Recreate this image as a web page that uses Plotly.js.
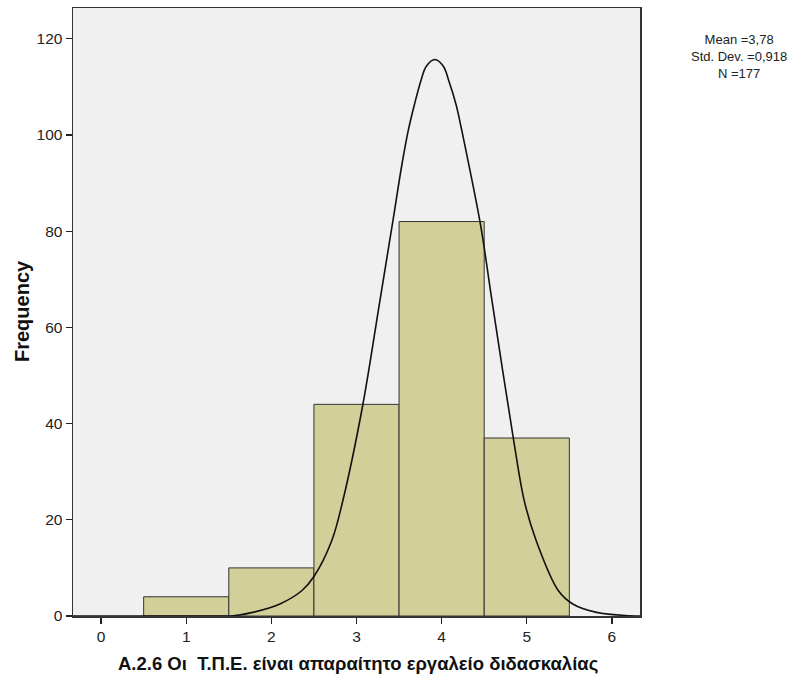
<!DOCTYPE html>
<html>
<head>
<meta charset="utf-8">
<script src="https://cdn.plot.ly/plotly-3.0.1.min.js"></script>
<style>html,body{margin:0;padding:0;background:#fff;}#chart{width:802px;height:682px;}</style>
</head>
<body>
<div id="chart"></div>
<script>
// Histogram data (bin centers and frequencies)
const categories = [1, 2, 3, 4, 5];
const frequencies = [4, 10, 44, 82, 37];
const xTicks = [0, 1, 2, 3, 4, 5, 6];
const yTicks = [0, 20, 40, 60, 80, 100, 120];

// Normal curve
const curveX = [-0.33, 1.2, 1.55, 1.78, 2.10, 2.36, 2.50, 2.71, 2.84, 3.07, 3.27, 3.43, 3.53, 3.61, 3.68, 3.76, 3.82, 3.92, 4.02, 4.08, 4.17, 4.23, 4.30, 4.46, 4.59, 4.84, 4.97, 5.11, 5.37, 5.54, 5.82, 6.21, 6.33];
const curveY = [0, 0, 0.06, 0.75, 2.5, 5.3, 8.2, 15.7, 24.0, 43.5, 65.0, 82.4, 93.5, 101.1, 106.3, 111.5, 114.3, 115.7, 114.3, 111.5, 106.3, 101.5, 95.5, 81.0, 65.7, 37.2, 24.0, 15.7, 5.3, 2.5, 0.75, 0.06, 0];

const statsLines = ["Mean =3,78", "Std. Dev. =0,918", "N =177"];
const xTitle = "Α.2.6 Οι  Τ.Π.Ε. είναι απαραίτητο εργαλείο διδασκαλίας";
const yTitle = "Frequency";

const FONT = "Liberation Sans, Arial, sans-serif";

const traces = [
  {
    type: "bar",
    x: categories,
    y: frequencies,
    width: 1,
    marker: {color: "#d3cf98", line: {color: "#333333", width: 1}},
    hoverinfo: "x+y"
  },
  {
    type: "scatter",
    mode: "lines",
    x: curveX,
    y: curveY,
    line: {color: "#111111", width: 1.6, shape: "spline", smoothing: 1},
    hoverinfo: "skip"
  }
];

const layout = {
  width: 802,
  height: 682,
  margin: {l: 73, r: 162, t: 8, b: 66},
  paper_bgcolor: "#ffffff",
  plot_bgcolor: "#f0f0f0",
  showlegend: false,
  bargap: 0,
  font: {family: FONT, size: 14, color: "#222"},
  xaxis: {
    range: [-0.33, 6.33],
    tickvals: xTicks,
    ticktext: xTicks.map(String),
    ticks: "outside",
    ticklen: 6,
    tickwidth: 1.2,
    tickcolor: "#222",
    showline: true,
    linecolor: "#333",
    linewidth: 1.5,
    mirror: true,
    showgrid: false,
    zeroline: false,
    tickfont: {family: FONT, size: 15.5, color: "#222"}
  },
  yaxis: {
    range: [0, 126.4],
    tickvals: yTicks,
    ticktext: yTicks.map(String),
    ticks: "outside",
    ticklen: 6,
    tickwidth: 1.2,
    tickcolor: "#222",
    showline: true,
    linecolor: "#333",
    linewidth: 1.5,
    mirror: true,
    showgrid: false,
    zeroline: false,
    tickfont: {family: FONT, size: 15.5, color: "#222"}
  },
  annotations: [
    {
      xref: "paper", yref: "paper",
      x: (358 - 73) / 567, y: (616 - 663) / 608,
      xanchor: "center", yanchor: "middle",
      showarrow: false,
      text: xTitle,
      font: {family: FONT, size: 18.5, color: "#111", weight: "bold"}
    },
    {
      xref: "paper", yref: "paper",
      x: (22 - 73) / 567, y: (616 - 311) / 608,
      xanchor: "center", yanchor: "middle",
      textangle: -90,
      showarrow: false,
      text: yTitle,
      font: {family: FONT, size: 20, color: "#111", weight: "bold"}
    },
    {
      xref: "paper", yref: "paper",
      x: (739 - 73) / 567, y: (616 - 56) / 608,
      xanchor: "center", yanchor: "middle",
      align: "center",
      showarrow: false,
      text: statsLines.join("<br>"),
      font: {family: FONT, size: 13, color: "#222"}
    }
  ]
};

Plotly.newPlot("chart", traces, layout, {displayModeBar: false, staticPlot: true});
</script>
</body>
</html>
